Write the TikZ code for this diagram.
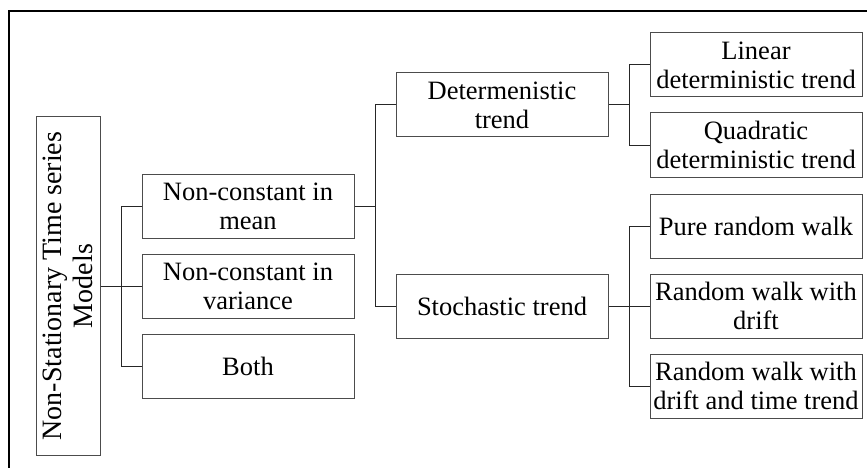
\documentclass[tikz,border=0pt]{standalone}
\usepackage{fontspec}
\setmainfont{Liberation Serif}

\begin{document}
\begin{tikzpicture}[x=1pt, y=-1pt,
    box/.style={draw=black!70, line width=1pt, minimum width=212pt, minimum height=64pt, inner sep=0pt, align=center, font=\fontsize{26.5}{29}\selectfont},
    link/.style={draw=black!85, line width=1pt}]

    \useasboundingbox (0,0) rectangle (867,468);
    \draw[line width=1.6pt] (9,468) -- (9,11) -- (867,11); % frame, left and top

    \node[draw=black!70, line width=1pt, minimum width=338pt, minimum height=64pt, inner sep=0pt, align=center, rotate=90, font=\fontsize{28}{31}\selectfont] (root) at (68,286) {Non-Stationary Time series\\Models};

    \node[box] (mean) at (248,206) {Non-constant in\\mean};
    \node[box] (variance) at (248,286) {Non-constant in\\variance};
    \node[box] (both) at (248,366) {Both};

    \node[box] (determ) at (502,105) {Determenistic\\trend};
    \node[box] (stoch) at (502,306) {Stochastic trend};

    \node[box] (linear) at (756,65) {Linear\\deterministic trend};
    \node[box] (quad) at (756,145) {Quadratic\\deterministic trend};
    \node[box] (pure) at (756,226) {Pure random walk};
    \node[box] (drift) at (756,306) {Random walk with\\drift};
    \node[box] (drifttime) at (756,386) {Random walk with\\drift and time trend};

    \coordinate (fork1) at (121,286); % root - level one
    \coordinate (fork2) at (375,206); % mean - trends
    \coordinate (fork3) at (629,105); % determenistic - its kinds
    \coordinate (fork4) at (629,306); % stochastic - its kinds

    \draw[link] (root.south) -- (fork1);
    \draw[link] (fork1) |- (mean.west);
    \draw[link] (fork1) -- (variance.west);
    \draw[link] (fork1) |- (both.west);

    \draw[link] (mean.east) -- (fork2);
    \draw[link] (fork2) |- (determ.west);
    \draw[link] (fork2) |- (stoch.west);

    \draw[link] (determ.east) -- (fork3);
    \draw[link] (fork3) |- (linear.west);
    \draw[link] (fork3) |- (quad.west);

    \draw[link] (stoch.east) -- (fork4);
    \draw[link] (fork4) |- (pure.west);
    \draw[link] (fork4) -- (drift.west);
    \draw[link] (fork4) |- (drifttime.west);
\end{tikzpicture}
\end{document}
